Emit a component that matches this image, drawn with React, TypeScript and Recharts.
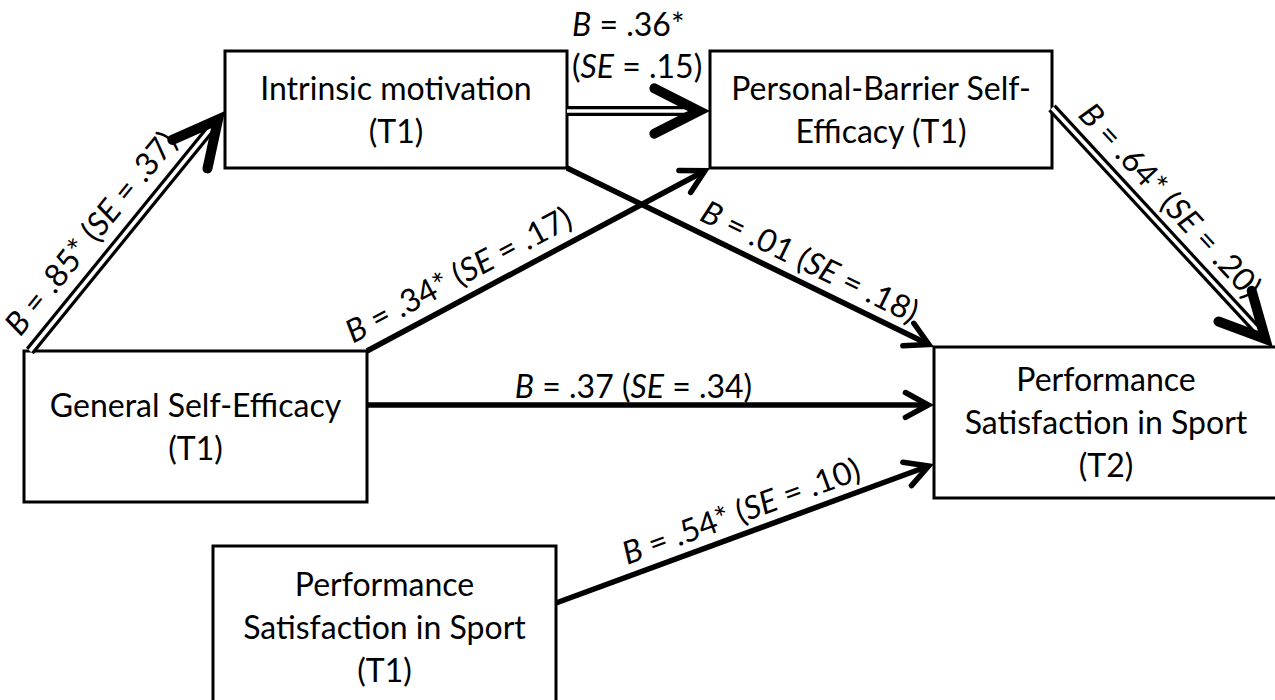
import React from 'react';
import { ReferenceArea, Scatter, ScatterChart, XAxis, YAxis } from 'recharts';

// variables of the path model
const nodeIds = ['gse', 'im', 'pb', 'pst2', 'pst1'];
const nodeLabels = [
  ['General Self-Efficacy', '(T1)'],
  ['Intrinsic motivation', '(T1)'],
  ['Personal-Barrier Self-', 'Efficacy (T1)'],
  ['Performance', 'Satisfaction in Sport', '(T2)'],
  ['Performance', 'Satisfaction in Sport', '(T1)'],
];

// paths with unstandardised coefficients
const pathFrom = ['gse', 'im', 'gse', 'im', 'pb', 'gse', 'pst1'];
const pathTo = ['im', 'pb', 'pb', 'pst2', 'pst2', 'pst2', 'pst2'];
const pathB = ['.85', '.36', '.34', '.01', '.64', '.37', '.54'];
const pathSE = ['.37', '.15', '.17', '.18', '.20', '.34', '.10'];
const pathSig = [true, true, true, false, true, false, true];

// layout (diagram units = pixels)
const W = 1275;
const H = 700;
const FONT = 'Lato, "Open Sans", sans-serif';
const FS = 32;
const LH = 43;

type Box = [number, number, number, number];
const boxLayout: Box[] = [
  [24, 351, 367, 502],
  [225, 51, 567, 168],
  [710, 51, 1052, 168],
  [934, 347, 1278, 498],
  [213, 546, 556, 708],
];
// [fromFx, fromFy, toFx, toFy] relative to the boxes
const pathAnchors = [
  [0.017, 0, 0, 0.513],
  [1, 0.513, 0, 0.513],
  [1, 0, 0, 1],
  [1, 1, 0, 0],
  [1, 0.487, 0.985, 0],
  [1, 0.358, 0, 0.384],
  [1, 0.352, 0, 0.775],
];
const pathDouble = [true, true, false, false, true, false, false];
// label position along path (t) and distance of baseline from the path
const labelT = [0.42, 0.035, 0.3, 0.635, 0.455, 0.47, 0.51];
const labelOff = [16, 33, 13, 11, 13, 7, 11];
const labelSplit = [false, true, false, false, false, false, false];

const THIN = { len: 26, a: 0.5, w: 5.5 };
const THICK = { len: 50, a: 0.47, w: 10 };

const boxOf = (id: string) => boxLayout[nodeIds.indexOf(id)];
const at = (b: Box, fx: number, fy: number) => ({
  x: b[0] + fx * (b[2] - b[0]),
  y: b[1] + fy * (b[3] - b[1]),
});

type Seg = [string, boolean];

const edges = pathFrom.map((from, i) => {
  const [fx1, fy1, fx2, fy2] = pathAnchors[i];
  const a = at(boxOf(from), fx1, fy1);
  const b = at(boxOf(pathTo[i]), fx2, fy2);
  const len = Math.hypot(b.x - a.x, b.y - a.y);
  const ux = (b.x - a.x) / len;
  const uy = (b.y - a.y) / len;
  const head = pathDouble[i] ? THICK : THIN;
  const back = head.w / (2 * Math.sin(head.a));
  const tip = { x: b.x - ux * back, y: b.y - uy * back };
  const star = pathSig[i] ? '*' : '';
  const lines: Seg[][] = labelSplit[i]
    ? [
      [['B', true], [` = ${pathB[i]}${star}`, false]],
      [['(', false], ['SE', true], [` = ${pathSE[i]})`, false]],
    ]
    : [[['B', true], [` = ${pathB[i]}${star} (`, false], ['SE', true], [` = ${pathSE[i]})`, false]]];
  const t = labelT[i] * len;
  const off = labelOff[i];
  return {
    double: pathDouble[i],
    line: [{ x: a.x, y: a.y }, { x: tip.x, y: tip.y }],
    head: { x: tip.x, y: tip.y, ux, uy, ...head },
    label: {
      x: a.x + ux * t + uy * off,
      y: a.y + uy * t - ux * off,
      angle: labelSplit[i] ? 0 : (Math.atan2(uy, ux) * 180) / Math.PI,
      anchor: labelSplit[i] ? 'start' : 'middle',
      lines,
    },
  };
});

const heads = edges.map((e) => e.head);
const labels = edges.map((e) => e.label);
const nodeCentres = nodeIds.map((id, i) => {
  const c = at(boxLayout[i], 0.5, 0.5);
  return { x: c.x, y: c.y, lines: nodeLabels[i] };
});

const none = () => <g />;

const HeadShape = (p: any) => {
  const { cx, cy, payload } = p;
  const { ux, uy, len, a, w } = payload;
  const arm = (s: number) => {
    const c = Math.cos(s * a);
    const sn = Math.sin(s * a);
    const bx = -ux * c + uy * sn;
    const by = -uy * c - ux * sn;
    return `${cx + bx * len},${cy + by * len}`;
  };
  return (
    <path
      d={`M${arm(1)} L${cx},${cy} L${arm(-1)}`}
      fill="none"
      stroke="#000"
      strokeWidth={w}
      strokeLinecap="round"
      strokeLinejoin="miter"
    />
  );
};

const LabelShape = (p: any) => {
  const { cx, cy, payload } = p;
  const n = payload.lines.length;
  return (
    <text
      transform={`translate(${cx},${cy}) rotate(${payload.angle})`}
      textAnchor={payload.anchor}
      fontFamily={FONT}
      fontSize={FS}
      fill="#000"
    >
      {payload.lines.map((segs: Seg[], k: number) => (
        <tspan key={k} x={0} y={-(n - 1 - k) * 42}>
          {segs.map(([s, it], j) => (
            <tspan key={j} fontStyle={it ? 'italic' : 'normal'}>{s}</tspan>
          ))}
        </tspan>
      ))}
    </text>
  );
};

const NodeShape = (p: any) => {
  const { cx, cy, payload } = p;
  const n = payload.lines.length;
  return (
    <text textAnchor="middle" fontFamily={FONT} fontSize={FS} fill="#000">
      {payload.lines.map((ln: string, k: number) => (
        <tspan key={k} x={cx} y={cy + (k - (n - 1) / 2) * LH + FS * 0.36}>{ln}</tspan>
      ))}
    </text>
  );
};

export default function App() {
  return (
    <div style={{ position: 'absolute', left: 0, top: 0, width: W, height: H, background: '#fff' }}>
      <ScatterChart width={W} height={H} margin={{ top: 0, right: 0, bottom: 0, left: 0 }}>
        <XAxis type="number" dataKey="x" domain={[0, W]} allowDataOverflow hide />
        <YAxis type="number" dataKey="y" domain={[0, H]} allowDataOverflow reversed hide />
        {boxLayout.map((b, i) => (
          <ReferenceArea
            key={nodeIds[i]}
            x1={b[0]}
            x2={b[2]}
            y1={b[1]}
            y2={b[3]}
            fill="none"
            stroke="#000"
            strokeWidth={3}
            ifOverflow="visible"
          />
        ))}
        {edges.map((e, i) => (
          <Scatter
            key={`l${i}`}
            data={e.line}
            line={{ stroke: '#000', strokeWidth: e.double ? 10 : 5.5 }}
            shape={none}
            isAnimationActive={false}
          />
        ))}
        {edges.map((e, i) => (e.double ? (
          <Scatter
            key={`w${i}`}
            data={e.line}
            line={{ stroke: '#fff', strokeWidth: 3.6 }}
            shape={none}
            isAnimationActive={false}
          />
        ) : null))}
        <Scatter data={heads} shape={HeadShape} isAnimationActive={false} />
        <Scatter data={labels} shape={LabelShape} isAnimationActive={false} />
        <Scatter data={nodeCentres} shape={NodeShape} isAnimationActive={false} />
      </ScatterChart>
    </div>
  );
}
